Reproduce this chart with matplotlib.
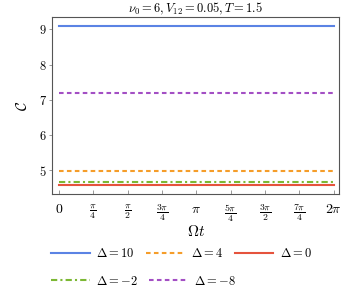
import numpy as np
import matplotlib
matplotlib.use('Agg')
import matplotlib.pyplot as plt

plt.rcParams['mathtext.fontset'] = 'cm'
plt.rcParams['font.family'] = 'serif'
plt.rcParams['font.serif'] = ['DejaVu Serif']

# --- data
deltas = [10, 4, 0, -2, -8]
c_values = [9.09, 4.98, 4.57, 4.65, 7.18]
colors = ['#5b83e4', '#f59d2a', '#e5533d', '#7cb834', '#a34fc4']
styles = ['-', (0, (2.2, 1.6)), '-', (0, (3, 1.5, 1, 1.5)), (0, (2.2, 1.6))]

tick_pos = [k * np.pi / 4 for k in range(9)]
tick_labels = ['$0$', r'$\frac{\pi}{4}$', r'$\frac{\pi}{2}$', r'$\frac{3\pi}{4}$', r'$\pi$',
               r'$\frac{5\pi}{4}$', r'$\frac{3\pi}{2}$', r'$\frac{7\pi}{4}$', r'$2\pi$']
y_ticks = [5, 6, 7, 8, 9]

t = np.linspace(0, 2 * np.pi, 200)

fig = plt.figure(figsize=(3.6, 2.95), dpi=100)
ax = fig.add_axes([0.145, 0.342, 0.7975, 0.599])

lines = []
for d, c, col, ls in zip(deltas, c_values, colors, styles):
    ln, = ax.plot(t, np.full_like(t, c), color=col, ls=ls, lw=1.5, label=r'$\Delta = %d$' % d)
    lines.append(ln)

ax.set_xlim(-0.153, 2 * np.pi + 0.128)
ax.set_ylim(4.32, 9.34)
ax.set_xticks(tick_pos)
ax.set_xticklabels(tick_labels, fontsize=10)
ax.set_yticks(y_ticks)
ax.set_yticklabels(['$%d$' % v for v in y_ticks], fontsize=9)
ax.tick_params(axis='x', direction='in', length=3, width=0.6, color='#888888', pad=6)
ax.tick_params(axis='y', direction='out', length=2, width=0.6, color='#888888', pad=2)
for s in ax.spines.values():
    s.set_color('#555555')
    s.set_linewidth(0.8)

ax.set_xlabel(r'$\Omega t$', fontsize=11, labelpad=0)
ax.set_ylabel(r'$\mathcal{C}$', fontsize=11, labelpad=6)
ax.set_title(r'$\nu_0 = 6, V_{12} = 0.05, T = 1.5$', fontsize=9, pad=3)

# two legend rows, each laid out on its own
kw = dict(loc='center left', frameon=False, fontsize=9, handlelength=3.1,
          columnspacing=0.9, handletextpad=0.5, borderpad=0, borderaxespad=0)
row1 = fig.legend(lines[:3], [l.get_label() for l in lines[:3]], ncol=3,
                  bbox_to_anchor=(0.142, 0.139), **kw)
row2 = fig.legend(lines[3:], [l.get_label() for l in lines[3:]], ncol=2,
                  bbox_to_anchor=(0.142, 0.047), **kw)

fig.savefig('out.png', dpi=100)
